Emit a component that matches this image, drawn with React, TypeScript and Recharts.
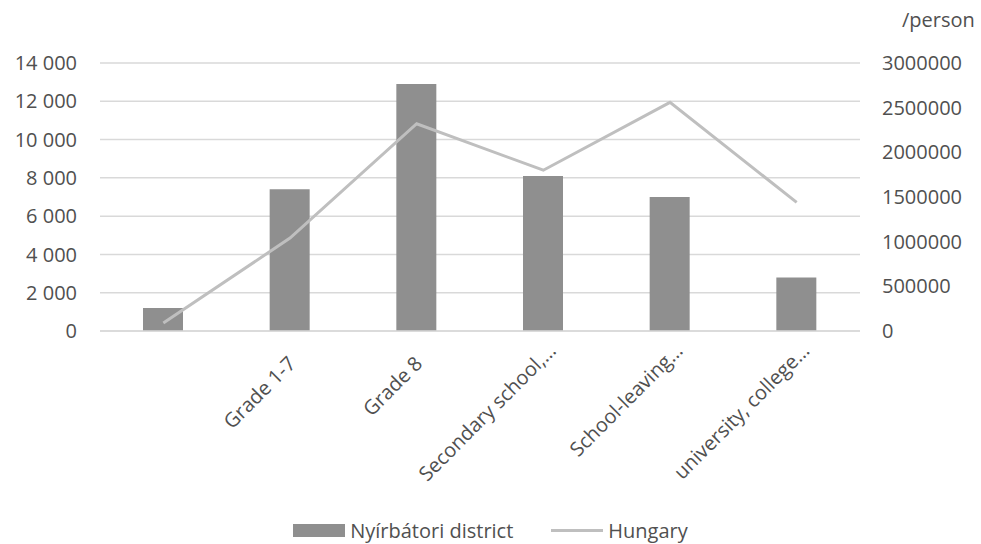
import React from "react";
import { ComposedChart, Bar, Line, XAxis, YAxis, CartesianGrid, Legend } from "recharts";

// education level categories (first one has no label)
const categories = ["", "Grade 1-7", "Grade 8", "Secondary school,…", "School-leaving…", "university, college…"];
const districtValues = [1200, 7400, 12900, 8100, 7000, 2800];
const hungaryValues = [90000, 1040000, 2320000, 1800000, 2560000, 1440000];
const leftTicks = [0, 2000, 4000, 6000, 8000, 10000, 12000, 14000];
const rightTicks = [0, 500000, 1000000, 1500000, 2000000, 2500000, 3000000];

const data = categories.map((name, i) => ({
  name,
  district: districtValues[i],
  hungary: hungaryValues[i],
}));

const FONT = "'Open Sans', sans-serif";
const TEXT = "#505050";
const BAR = "#8f8f8f";
const LINE = "#bfbfbf";

const withSpaces = (v: number) => v.toString().replace(/\B(?=(\d{3})+(?!\d))/g, " ");

const CategoryTick = (props: any) => {
  const { x, y, payload } = props;
  // truncated labels are placed a bit higher along the axis
  const truncated = String(payload.value).endsWith("…");
  const ax = x + (truncated ? 14 : 7);
  const ay = y + (truncated ? 13 : 26);
  return (
    <text
      x={ax}
      y={ay}
      textAnchor="end"
      fill={TEXT}
      fontSize={20}
      fontFamily={FONT}
      transform={`rotate(-45, ${ax}, ${ay})`}
    >
      {payload.value}
    </text>
  );
};

const LegendContent = () => (
  <div
    style={{
      display: "flex",
      justifyContent: "center",
      alignItems: "center",
      fontFamily: FONT,
      fontSize: 20,
      color: TEXT,
    }}
  >
    <span style={{ display: "inline-block", width: 52, height: 13, background: BAR, marginRight: 5 }} />
    <span>Nyírbátori district</span>
    <span style={{ display: "inline-block", width: 52, height: 3, background: LINE, marginLeft: 38, marginRight: 5 }} />
    <span>Hungary</span>
  </div>
);

const UnitLabel = (props: any) => {
  const { viewBox } = props;
  return (
    <text x={viewBox.x + 42} y={viewBox.y - 36} fill={TEXT} fontSize={20} fontFamily={FONT}>
      /person
    </text>
  );
};

export default function App() {
  return (
    <div style={{ position: "absolute", left: 0, top: 0, background: "#fff" }}>
      <ComposedChart width={981} height={544} data={data} margin={{ top: 63, right: 0, bottom: 0, left: 0 }}>
        <CartesianGrid yAxisId="left" vertical={false} stroke="#d9d9d9" strokeWidth={1.5} />
        <XAxis
          dataKey="name"
          height={213}
          interval={0}
          tickLine={false}
          axisLine={{ stroke: "#d9d9d9", strokeWidth: 1.5 }}
          tick={<CategoryTick />}
        />
        <YAxis
          yAxisId="left"
          width={100}
          domain={[0, 14000]}
          ticks={leftTicks}
          tickFormatter={withSpaces}
          axisLine={false}
          tickLine={false}
          tickSize={0}
          tickMargin={23}
          tick={{ fill: TEXT, fontSize: 20, fontFamily: FONT }}
        />
        <YAxis
          yAxisId="right"
          orientation="right"
          width={121}
          domain={[0, 3000000]}
          ticks={rightTicks}
          axisLine={false}
          tickLine={false}
          tickSize={0}
          tickMargin={22}
          tick={{ fill: TEXT, fontSize: 20, fontFamily: FONT, textAnchor: "start" }}
          label={<UnitLabel />}
        />
        <Bar yAxisId="left" dataKey="district" name="Nyírbátori district" fill={BAR} barSize={40} isAnimationActive={false} />
        <Line
          yAxisId="right"
          dataKey="hungary"
          name="Hungary"
          stroke={LINE}
          strokeWidth={3}
          dot={false}
          activeDot={false}
          isAnimationActive={false}
        />
        <Legend
          verticalAlign="middle"
          content={<LegendContent />}
          wrapperStyle={{ top: 517, left: 0, width: 981 }}
        />
      </ComposedChart>
    </div>
  );
}
